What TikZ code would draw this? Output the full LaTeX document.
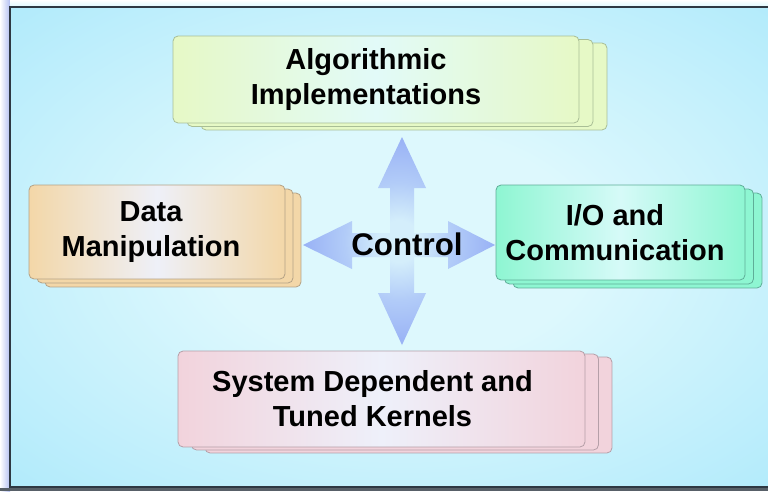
\documentclass[tikz,border=0pt]{standalone}
\usepackage{fontspec}
\setmainfont{Liberation Sans}
\usepackage{xcolor}
\usepackage{tikz}

% 颜色
\definecolor{bgout}{HTML}{96E2FA}
\definecolor{bgin}{HTML}{DDF8FD}
\definecolor{frameline}{HTML}{2E3842}
\definecolor{glow}{HTML}{B4C0F2}
\definecolor{ctlout}{HTML}{829CF2}
\definecolor{ctlhead}{HTML}{96AFF5}
\definecolor{ctlshaft}{HTML}{B2CCF8}
\definecolor{ctlin}{HTML}{D4EEFB}
\definecolor{algfill}{HTML}{E6F9C6}
\definecolor{algmid}{HTML}{E2FAF8}
\definecolor{algline}{HTML}{A9BE96}
\definecolor{datfill}{HTML}{F3D7A8}
\definecolor{datmid}{HTML}{EEF0F8}
\definecolor{datline}{HTML}{B4A286}
\definecolor{iofill}{HTML}{8EF6D2}
\definecolor{iomid}{HTML}{D6FAF8}
\definecolor{ioline}{HTML}{5FAE98}
\definecolor{kerfill}{HTML}{F2D3DC}
\definecolor{kermid}{HTML}{EEF0FA}
\definecolor{kerline}{HTML}{B59FA8}

\pgfdeclareradialshading{bgglow}{\pgfpointorigin}{color(0bp)=(bgin); color(12bp)=(bgin); color(50bp)=(bgout); color(75bp)=(bgout)}
\pgfdeclareradialshading{ctlglow}{\pgfpointorigin}{color(0bp)=(ctlin); color(5bp)=(ctlin); color(14bp)=(ctlshaft); color(26bp)=(ctlhead); color(50bp)=(ctlout)}

\pgfdeclarelayer{bg}
\pgfdeclarelayer{back}
\pgfsetlayers{bg,back,main}

\newcommand{\lpad}[1]{\hspace*{#1}}

\begin{document}
\begin{tikzpicture}[x=0.02cm, y=-0.02cm,
  box/.style={rectangle, draw, rounded corners=0.1cm, line width=0.45pt,
    inner sep=0pt, outer sep=0pt, align=center,
    font=\fontsize{16.5}{19.8}\selectfont\bfseries},
  layer/.style={rounded corners=0.1cm, line width=0.45pt},
  algbox/.style={box, draw=algline, left color=algfill, right color=algfill,
    middle color=algmid, minimum width=8.12cm, minimum height=1.74cm},
  datbox/.style={box, draw=datline, left color=datfill, right color=datfill,
    middle color=datmid, minimum width=5.12cm, minimum height=1.88cm},
  iobox/.style={box, draw=ioline, left color=iofill, right color=iofill,
    middle color=iomid, minimum width=4.98cm, minimum height=1.9cm},
  kerbox/.style={box, draw=kerline, left color=kerfill, right color=kerfill,
    middle color=kermid, minimum width=8.14cm, minimum height=1.92cm},
  ctl/.style={font=\fontsize{17.8}{20}\selectfont\bfseries, inner sep=0pt}]
\useasboundingbox (0,0) rectangle (768,491);
\clip (0,0) rectangle (768,491);
% 背景
\begin{pgfonlayer}{bg}
\fill[left color=white, right color=glow] (0,0) rectangle (10,491);
\fill[top color=white, bottom color=bgin] (10,0) rectangle (768,7);
\path[shading=bgglow] (10,7) rectangle (790,487);
\draw[frameline, line width=0.04cm] (10,7) rectangle (790,487);
\fill[frameline!80!white] (0,488) rectangle (768,491);
\end{pgfonlayer}
% 十字箭头
\coordinate (hub) at (402,245);
\path[shading=ctlglow, shift={(hub)}]
  (0,-108) -- (24,-57) -- (12,-57) -- (12,-12) -- (46,-12) -- (46,-24)
  -- (93,0) -- (46,24) -- (46,12) -- (12,12) -- (12,48) -- (24,48)
  -- (0,100) -- (-24,48) -- (-12,48) -- (-12,12) -- (-50,12) -- (-50,24)
  -- (-99,0) -- (-50,-24) -- (-50,-12) -- (-12,-12) -- (-12,-57) -- (-24,-57)
  -- cycle;
% 节点定义
\node[ctl] (control) at (407,244) {Control};
\node[algbox] (alg) at (376,79.5) {Algorithmic\lpad{0.4cm}\\Implementations\lpad{0.4cm}};
\node[datbox] (dat) at (157,232) {Data\lpad{0.24cm}\\Manipulation\lpad{0.24cm}};
\node[iobox] (io) at (620.5,232.5) {I/O and\lpad{0.22cm}\\Communication\lpad{0.22cm}};
\node[kerbox] (ker) at (381.5,399) {System Dependent and\lpad{0.36cm}\\Tuned Kernels\lpad{0.36cm}};
% 叠层
\begin{pgfonlayer}{back}
\foreach \k in {2,1} {
  \draw[layer, draw=algline, fill=algfill] ([shift={(14*\k,3.5*\k)}]alg.north west) rectangle ([shift={(14*\k,3.5*\k)}]alg.south east);
  \draw[layer, draw=datline, fill=datfill] ([shift={(8*\k,4*\k)}]dat.north west) rectangle ([shift={(8*\k,4*\k)}]dat.south east);
  \draw[layer, draw=ioline, fill=iofill] ([shift={(8.5*\k,4*\k)}]io.north west) rectangle ([shift={(8.5*\k,4*\k)}]io.south east);
  \draw[layer, draw=kerline, fill=kerfill] ([shift={(13.5*\k,3*\k)}]ker.north west) rectangle ([shift={(13.5*\k,3*\k)}]ker.south east);
}
\end{pgfonlayer}
\end{tikzpicture}
\end{document}
